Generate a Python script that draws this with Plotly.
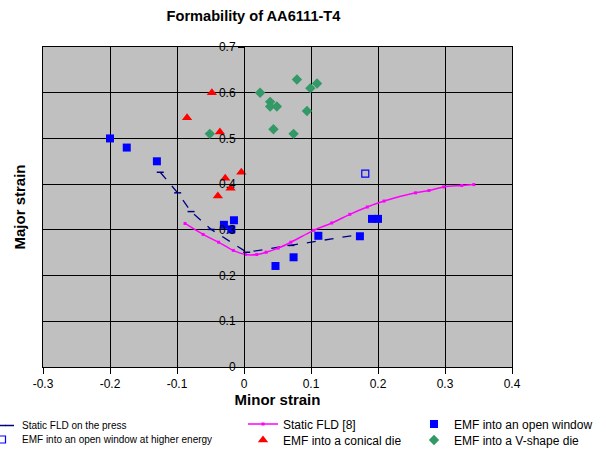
import plotly.graph_objects as go

# ---------------- data ----------------
press_x = [-0.125, -0.099, -0.079, -0.049, 0.004, 0.070, 0.173]
press_y = [0.426, 0.381, 0.340, 0.301, 0.251, 0.266, 0.290]

static_x = [-0.088, -0.061, -0.038, -0.016, 0.002, 0.019, 0.033, 0.051, 0.070, 0.104,
            0.131, 0.158, 0.184, 0.209, 0.256, 0.276, 0.298, 0.325, 0.343]
static_y = [0.314, 0.290, 0.273, 0.255, 0.246, 0.246, 0.251, 0.260, 0.273, 0.299,
            0.315, 0.334, 0.350, 0.363, 0.381, 0.386, 0.394, 0.397, 0.399]

open_x = [-0.200, -0.175, -0.130, -0.030, -0.019, -0.015, 0.047, 0.074, 0.111, 0.173, 0.191, 0.200]
open_y = [0.500, 0.480, 0.450, 0.311, 0.301, 0.321, 0.221, 0.240, 0.287, 0.286, 0.324, 0.324]

high_x = [0.181]
high_y = [0.423]

conical_x = [-0.048, -0.085, -0.036, -0.004, -0.028, -0.020, -0.039]
conical_y = [0.600, 0.545, 0.514, 0.426, 0.413, 0.391, 0.374]

vshape_x = [-0.051, 0.024, 0.039, 0.039, 0.049, 0.044, 0.074, 0.079, 0.094, 0.099, 0.109]
vshape_y = [0.510, 0.600, 0.580, 0.570, 0.570, 0.520, 0.510, 0.629, 0.560, 0.610, 0.620]

x_ticks = [-0.3, -0.2, -0.1, 0.0, 0.1, 0.2, 0.3, 0.4]
x_ticklabels = ["-0.3", "-0.2", "-0.1", "0", "0.1", "0.2", "0.3", "0.4"]
y_ticks = [0, 0.1, 0.2, 0.3, 0.4, 0.5, 0.6, 0.7]
y_ticklabels = ["0", "0.1", "0.2", "0.3", "0.4", "0.5", "0.6", "0.7"]

FONT = "Liberation Sans, Arial, Helvetica, sans-serif"
W, H = 606, 451
ML, MR, MT, MB = 43, 94, 47, 84
PW, PH = W - ML - MR, H - MT - MB

fig = go.Figure()

fig.add_trace(go.Scatter(
    x=press_x, y=press_y, mode="lines+markers", name="Static FLD on the press",
    line=dict(color="#000080", width=1.3, dash="dash"),
    marker=dict(symbol="line-ew", size=5, line=dict(color="#000080", width=1.5)),
    legend="legend"))

fig.add_trace(go.Scatter(
    x=static_x, y=static_y, mode="lines+markers", name="Static FLD [8]",
    line=dict(color="#FF00FF", width=1.5, shape="spline"),
    marker=dict(symbol="square", size=3, color="#FF00FF"),
    legend="legend2"))

fig.add_trace(go.Scatter(
    x=open_x, y=open_y, mode="markers", name="EMF into an open window",
    marker=dict(symbol="square", size=8, color="#0000FF"),
    legend="legend3"))

fig.add_trace(go.Scatter(
    x=high_x, y=high_y, mode="markers", name="EMF into an open window at higher energy",
    marker=dict(symbol="square-open", size=7, color="#0000FF", line=dict(width=1.2)),
    legend="legend4"))

fig.add_trace(go.Scatter(
    x=conical_x, y=conical_y, mode="markers", name="EMF into a conical die",
    marker=dict(symbol="triangle-up", size=9, color="#FF0000"),
    legend="legend5"))

fig.add_trace(go.Scatter(
    x=vshape_x, y=vshape_y, mode="markers", name="EMF into a V-shape die",
    marker=dict(symbol="diamond", size=8, color="#339966"),
    legend="legend6", yaxis="y2"))


def leg(text_px, py_mid, size):
    # text_px / py_mid: wanted page position of legend text start / row centre
    left = text_px - 40
    return dict(xref="paper", yref="paper",
                x=(left - ML) / PW, y=(H - MB - py_mid) / PH,
                xanchor="left", yanchor="middle",
                bgcolor="rgba(0,0,0,0)", borderwidth=0,
                font=dict(family=FONT, size=size, color="black"))


fig.update_layout(
    width=W, height=H, showlegend=True,
    margin=dict(l=ML, r=MR, t=MT, b=MB, autoexpand=False),
    paper_bgcolor="white", plot_bgcolor="#C0C0C0",
    font=dict(family=FONT, color="black"),
    title=dict(text="<b>Formability of AA6111-T4</b>", x=253.5 / W, xanchor="center",
               y=1 - 16 / H, yanchor="middle", font=dict(size=14.6, family=FONT)),
    xaxis=dict(range=[-0.3, 0.4], tickvals=x_ticks, ticktext=x_ticklabels,
               showgrid=True, gridcolor="black", gridwidth=1,
               showline=True, linecolor="black", linewidth=1, mirror=True,
               ticks="outside", ticklen=6, tickcolor="black", zeroline=False,
               tickfont=dict(size=12),
               title=dict(text="<b>Minor strain</b>", font=dict(size=15), standoff=0)),
    yaxis=dict(range=[0, 0.7], tickvals=y_ticks, showticklabels=False,
               showgrid=True, gridcolor="black", gridwidth=1,
               showline=True, linecolor="black", linewidth=1, mirror=True,
               ticks="", zeroline=False,
               title=dict(text="<b>Major strain</b>", font=dict(size=15), standoff=12)),
    yaxis2=dict(range=[0, 0.7], overlaying="y", anchor="free", position=3 / 7,
                tickvals=y_ticks, ticktext=y_ticklabels, showgrid=False, zeroline=False,
                showline=True, linecolor="black", linewidth=1,
                ticks="outside", ticklen=6, tickcolor="black",
                tickfont=dict(size=12)),
    legend=leg(22, 425.5, 10),
    legend4=leg(22, 439.5, 10),
    legend2=leg(283, 424, 12),
    legend5=leg(283, 440, 12),
    legend3=leg(454, 424, 12),
    legend6=leg(454, 440, 12),
)

fig.write_html("out.html", config={"displayModeBar": False},
               post_script="document.body.style.margin = '0px';")
